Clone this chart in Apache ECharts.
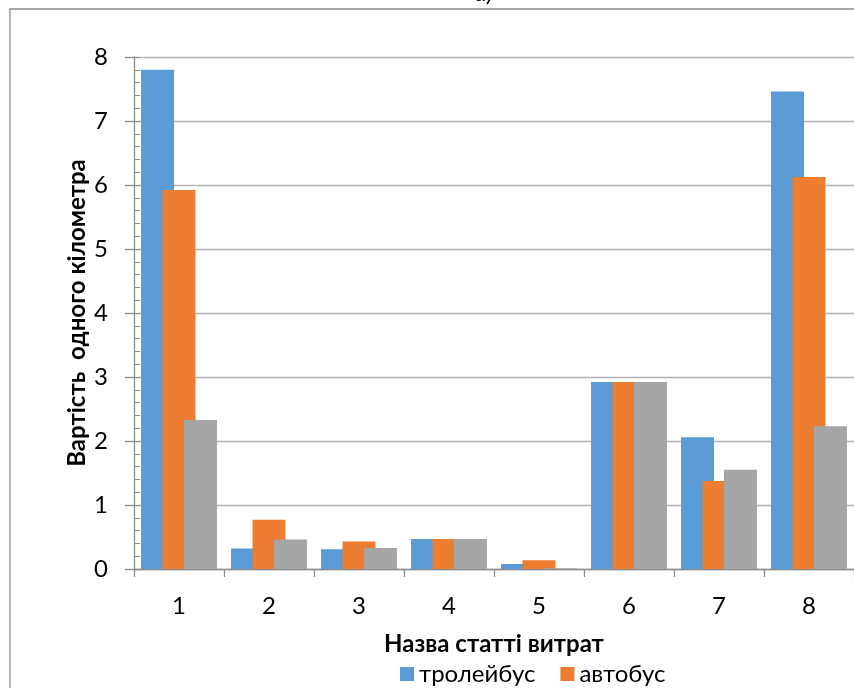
<!DOCTYPE html>
<html>
<head>
<meta charset="utf-8">
<script src="https://cdn.jsdelivr.net/npm/echarts@6/dist/echarts.min.js"></script>
<style>
html,body{margin:0;padding:0;background:#fff;}
#chart{width:854px;height:688px;}
</style>
</head>
<body>
<div id="chart"></div>
<script>
var categories = ['1','2','3','4','5','6','7','8'];
var trolleybus = [7.8, 0.32, 0.31, 0.47, 0.08, 2.92, 2.06, 7.46];
var bus        = [5.92, 0.77, 0.43, 0.47, 0.135, 2.92, 1.375, 6.125];
var third      = [2.33, 0.46, 0.33, 0.47, 0.01, 2.92, 1.55, 2.23];
var seriesNames = ['тролейбус', 'автобус', 'серія 3'];
var yTicks = {min: 0, max: 8, interval: 1};

var FONT = 'Lato, "Open Sans", sans-serif';
var chart = echarts.init(document.getElementById('chart'), null, {renderer: 'canvas'});
var barStyle = {barWidth: 33, barGap: '-35%'};
var option = {
  animation: false,
  backgroundColor: '#fff',
  textStyle: {fontFamily: FONT},
  grid: {left: 134, right: -4, top: 57, bottom: 119, containLabel: false},
  graphic: [
    {type: 'rect', shape: {x: 10, y: 9, width: 900, height: 800},
     style: {fill: 'none', stroke: '#8c8c8c', lineWidth: 1.3}, silent: true},
    {type: 'text', x: 484, y: 5, style: {text: 'а)', font: 'italic 24px ' + FONT, fill: '#000', textAlign: 'center', textVerticalAlign: 'bottom'}}
  ],
  legend: {
    data: [seriesNames[0], seriesNames[1]],
    left: 395, top: 657,
    itemWidth: 14, itemHeight: 14, itemGap: 25,
    icon: 'rect',
    textStyle: {fontSize: 24, color: '#000', fontFamily: FONT}
  },
  xAxis: {
    type: 'category',
    data: categories,
    name: 'Назва статті витрат',
    nameLocation: 'middle',
    nameGap: 63,
    nameTextStyle: {fontSize: 24, fontWeight: 'bold', color: '#000', fontFamily: FONT},
    axisLine: {lineStyle: {color: '#8c8c8c', width: 1.3}},
    axisTick: {show: true, length: 8, lineStyle: {color: '#8c8c8c', width: 1.3}},
    axisLabel: {fontSize: 24, color: '#000', margin: 25, fontFamily: FONT},
    splitLine: {show: false}
  },
  yAxis: [{
    type: 'value',
    min: yTicks.min, max: yTicks.max, interval: yTicks.interval,
    name: 'Вартість  одного кілометра',
    nameLocation: 'middle',
    nameGap: 45,
    nameMoveOverlap: false,
    nameRotate: 90,
    nameTextStyle: {fontSize: 24, fontWeight: 'bold', color: '#000', fontFamily: FONT},
    axisLine: {show: true, lineStyle: {color: '#8c8c8c', width: 1.3}},
    axisTick: {show: true, length: 9, lineStyle: {color: '#8c8c8c', width: 1.3}},
    axisLabel: {fontSize: 24, color: '#000', margin: 26, fontFamily: FONT},
    splitLine: {show: true, lineStyle: {color: '#b3b3b3', width: 1.3}}
  }, {
    type: 'value',
    position: 'left',
    min: yTicks.min, max: yTicks.max, interval: yTicks.interval,
    axisLine: {show: false},
    axisLabel: {show: false},
    axisTick: {show: true, inside: true, length: 6, lineStyle: {color: '#8c8c8c', width: 1}},
    minorTick: {show: true, splitNumber: 5, length: 6, lineStyle: {color: '#8c8c8c', width: 1}},
    splitLine: {show: false}
  }],
  series: [
    Object.assign({type: 'bar', name: seriesNames[0], data: trolleybus, itemStyle: {color: '#5B9BD5'}}, barStyle),
    Object.assign({type: 'bar', name: seriesNames[1], data: bus, itemStyle: {color: '#ED7D31'}}, barStyle),
    Object.assign({type: 'bar', name: seriesNames[2], data: third, itemStyle: {color: '#A5A5A5'}}, barStyle)
  ]
};
chart.setOption(option);
</script>
</body>
</html>
